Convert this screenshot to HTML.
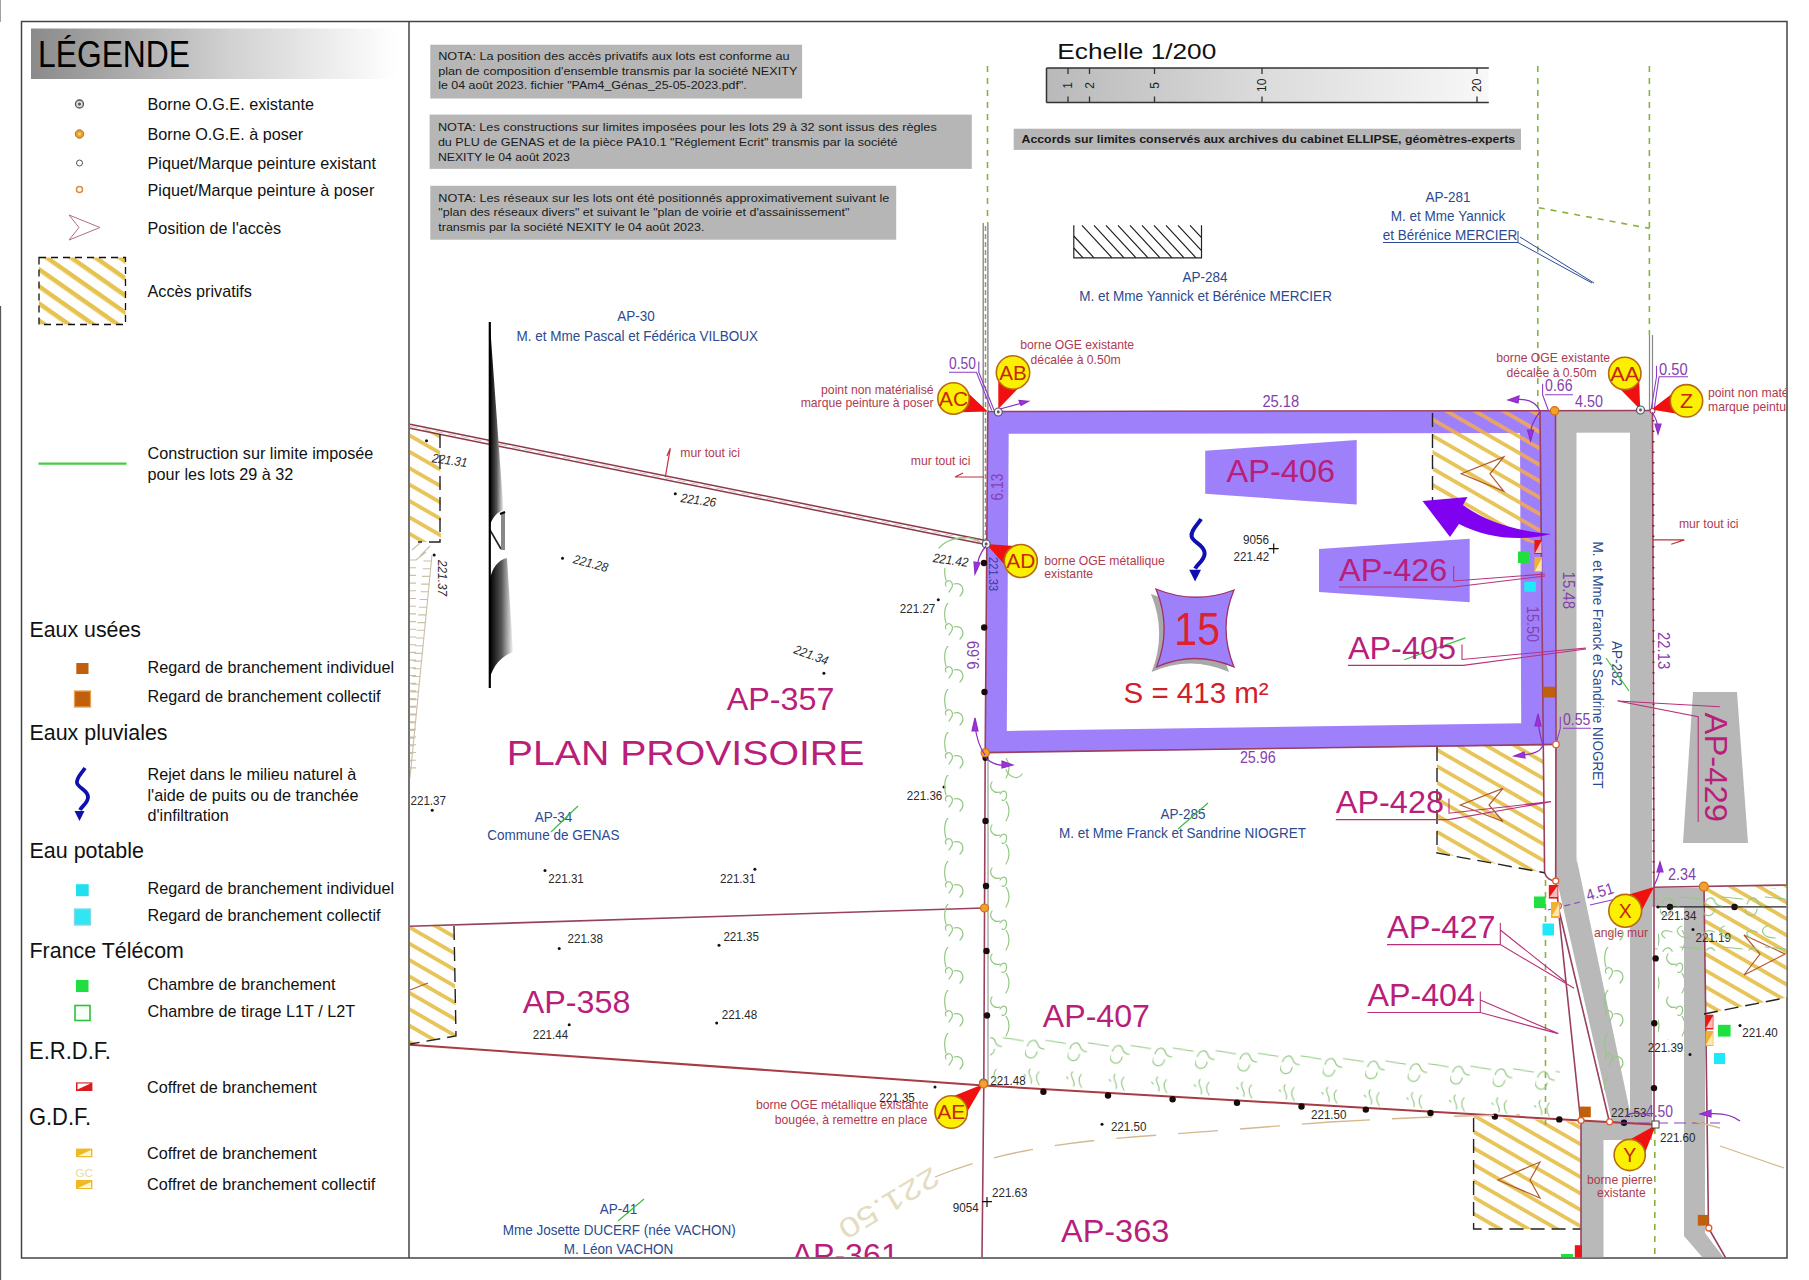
<!DOCTYPE html>
<html><head><meta charset="utf-8"><title>Plan</title>
<style>
html,body{margin:0;padding:0;background:#fff;width:1809px;height:1280px;overflow:hidden}
svg{display:block;font-family:"Liberation Sans",sans-serif}
</style></head><body>
<svg width="1809" height="1280" viewBox="0 0 1809 1280">
<defs>
<linearGradient id="lg" x1="0" x2="1" y1="0" y2="0"><stop offset="0" stop-color="#8a8a8a"/><stop offset="0.55" stop-color="#d2d2d2"/><stop offset="0.95" stop-color="#fafafa"/><stop offset="1" stop-color="#fff"/></linearGradient>
<linearGradient id="sg" x1="0" x2="1" y1="0" y2="0"><stop offset="0" stop-color="#b9b9b9"/><stop offset="0.5" stop-color="#dcdcdc"/><stop offset="1" stop-color="#f8f8f8"/></linearGradient>
<pattern id="hy" patternUnits="userSpaceOnUse" width="14" height="14" patternTransform="rotate(35)"><rect width="14" height="14" fill="#fff"/><rect y="0" width="14" height="4.5" fill="#e6c24e"/></pattern>
<pattern id="hy2" patternUnits="userSpaceOnUse" width="14.2" height="14.2" patternTransform="rotate(30)"><rect width="14.2" height="14.2" fill="#fff"/><rect y="0" width="14.2" height="3.8" fill="#e7c55a"/></pattern>
<pattern id="ho" patternUnits="userSpaceOnUse" width="14.2" height="14.2" patternTransform="rotate(30)"><rect y="0" width="14.2" height="3.8" fill="#e9a46a"/></pattern>
<clipPath id="mapclip"><rect x="409.8" y="22.2" width="1376.5" height="1235.1"/></clipPath>
<pattern id="hedgeH" patternUnits="userSpaceOnUse" width="42.6" height="50" patternTransform="translate(1026,1036) rotate(3.5)"><g fill="none" stroke="#94c884" stroke-width="1.2" stroke-linecap="round"><path d="M0,14 C-1,23 11,25 12,15"/><path d="M2,10 C4,3 10,2 12,7 C13,10 15,12 19,12"/><path d="M20,3 L40,5"/><path d="M-2,44 C-6,40 -1,36 2,40 M6,33 C2,37 10,41 8,47 M15,35 C12,39 13,44 16,48"/></g></pattern>
<pattern id="hedgeH2" patternUnits="userSpaceOnUse" width="42.6" height="50" patternTransform="translate(1660,894)"><g fill="none" stroke="#94c884" stroke-width="1.2" stroke-linecap="round"><path d="M0,14 C-1,23 11,25 12,15"/><path d="M2,10 C4,3 10,2 12,7 C13,10 15,12 19,12"/><path d="M20,3 L40,5"/><path d="M5,44 C-2,40 3,34 12,38 M22,32 C14,34 16,44 30,44"/></g></pattern>
<pattern id="hedgeV" patternUnits="userSpaceOnUse" width="30" height="43" patternTransform="translate(940,560)"><g fill="none" stroke="#94c884" stroke-width="1.2" stroke-linecap="round"><path d="M8,0 C4,4 4,14 6,20"/><path d="M6,26 C4,22 9,18 12,23 C14,27 10,30 9,32"/><path d="M14,24 C22,22 26,30 20,36"/></g></pattern>
<pattern id="hedgeV2" patternUnits="userSpaceOnUse" width="26" height="43" patternTransform="translate(988,758)"><g fill="none" stroke="#94c884" stroke-width="1.2" stroke-linecap="round"><path d="M18,0 C22,6 22,14 18,20"/><path d="M4,24 C0,30 6,36 12,34"/><path d="M12,36 C16,30 20,34 18,40 C16,44 14,42 14,42"/></g></pattern>
<linearGradient id="ng" x1="0" x2="1" y1="0" y2="0"><stop offset="0" stop-color="#000"/><stop offset="0.5" stop-color="#555"/><stop offset="1" stop-color="#f4f4f4"/></linearGradient>
</defs>
<rect width="1809" height="1280" fill="#fff"/>
<!-- left page edge -->
<line x1="0.4" y1="0" x2="0.4" y2="22" stroke="#999" stroke-width="1"/>
<line x1="0.5" y1="306" x2="0.5" y2="1280" stroke="#5a5a5a" stroke-width="1.3"/>

<!-- LEGEND -->
<g id="legend">
<rect x="31" y="28.5" width="366" height="50.5" fill="url(#lg)"/>
<text x="38" y="66.8" font-size="37.6" textLength="152" lengthAdjust="spacingAndGlyphs">LÉGENDE</text>
<g font-size="16.2" fill="#111">
<text x="147.5" y="110.4">Borne O.G.E. existante</text>
<text x="147.5" y="140.4">Borne O.G.E. à poser</text>
<text x="147.5" y="169">Piquet/Marque peinture existant</text>
<text x="147.5" y="195.5">Piquet/Marque peinture à poser</text>
<text x="147.5" y="233.8">Position de l'accès</text>
<text x="147.5" y="296.8">Accès privatifs</text>
<text x="147.5" y="459">Construction sur limite imposée</text>
<text x="147.5" y="480">pour les lots 29 à 32</text>
<text x="147.5" y="672.6">Regard de branchement individuel</text>
<text x="147.5" y="702.4">Regard de branchement collectif</text>
<text x="147.5" y="779.7">Rejet dans le milieu naturel à</text>
<text x="147.5" y="800.8">l'aide de puits ou de tranchée</text>
<text x="147.5" y="821">d'infiltration</text>
<text x="147.5" y="894">Regard de branchement individuel</text>
<text x="147.5" y="921.4">Regard de branchement collectif</text>
<text x="147.5" y="989.7">Chambre de branchement</text>
<text x="147.5" y="1016.5">Chambre de tirage L1T / L2T</text>
<text x="147" y="1092.6">Coffret de branchement</text>
<text x="147" y="1159">Coffret de branchement</text>
<text x="147" y="1189.7">Coffret de branchement collectif</text>
</g>
<g font-size="21.2" fill="#111">
<text x="29.5" y="637.3" font-size="22.8" textLength="111.5" lengthAdjust="spacingAndGlyphs">Eaux usées</text>
<text x="29.5" y="740.3" font-size="22.8" textLength="138" lengthAdjust="spacingAndGlyphs">Eaux pluviales</text>
<text x="29.5" y="858.4" font-size="22.8" textLength="114.5" lengthAdjust="spacingAndGlyphs">Eau potable</text>
<text x="29.5" y="957.5" font-size="22.8" textLength="154.4" lengthAdjust="spacingAndGlyphs">France Télécom</text>
<text x="29" y="1059.2" font-size="23.6" textLength="82" lengthAdjust="spacingAndGlyphs">E.R.D.F.</text>
<text x="29" y="1125.4" font-size="23.6" textLength="62" lengthAdjust="spacingAndGlyphs">G.D.F.</text>
</g>
<!-- symbols -->
<circle cx="79.5" cy="104" r="4" fill="#ddd" stroke="#555" stroke-width="1.3"/><circle cx="79.5" cy="104" r="1.5" fill="#555"/>
<circle cx="79.5" cy="134" r="4.2" fill="#e8a030" stroke="#b87010" stroke-width="1"/><circle cx="79.5" cy="134" r="1.6" fill="#f8d070"/>
<circle cx="79.5" cy="163" r="3" fill="#fff" stroke="#555" stroke-width="1"/>
<circle cx="79.5" cy="189.5" r="3" fill="#fff" stroke="#e08a3a" stroke-width="1.5"/>
<path d="M69,215 L100,227.5 L69,240 L79,227.5 Z" fill="none" stroke="#b07080" stroke-width="1"/>
<rect x="39" y="257.5" width="86.5" height="67" fill="url(#hy)"/>
<rect x="39" y="257.5" width="86.5" height="67" fill="none" stroke="#111" stroke-width="1.3" stroke-dasharray="7,5"/>
<line x1="38.5" y1="463.7" x2="126.5" y2="463.7" stroke="#44cc44" stroke-width="2.2"/>
<rect x="76.3" y="663" width="12.2" height="11" fill="#c0600e"/>
<rect x="74.5" y="691" width="16" height="16" fill="#c0600e" stroke="#e8a050" stroke-width="1.3"/>
<path d="M85,768 C81,774 76,778 77,783 C78,788 88,790 88,797 C88,803 82,806 80,810" fill="none" stroke="#1010b0" stroke-width="3.8"/>
<path d="M74.5,811 L84.5,811 L79.5,821 Z" fill="#1010b0"/>
<rect x="76" y="884.2" width="12.7" height="12" fill="#20e0f0"/>
<rect x="74.5" y="909" width="16" height="16" fill="#30e6f4" stroke="#80d8e8" stroke-width="1.3"/>
<rect x="76" y="980" width="12.5" height="12" fill="#20dd40"/>
<rect x="75" y="1005.5" width="15" height="15" fill="#f8fff8" stroke="#30c040" stroke-width="1.6"/>
<rect x="76" y="1082.4" width="16.4" height="8.6" fill="#dd1a20"/><path d="M77.5,1089.5 L90.5,1083.5 L77.5,1083.5 Z" fill="#fff"/>
<rect x="76" y="1148.6" width="16.4" height="8.6" fill="#f0b828"/><path d="M78,1156 L91,1150 L91,1156 Z" fill="#fff6d0"/>
<text x="75.5" y="1177" font-size="11" fill="#e8dc98" textLength="17.4" lengthAdjust="spacingAndGlyphs">GC</text>
<rect x="76" y="1180" width="16.4" height="9" fill="#f0b828"/><path d="M78,1188 L91,1182 L91,1188 Z" fill="#fff6d0"/>
</g>

<!-- FRAME -->
<rect x="21.5" y="21.5" width="1765.5" height="1236.5" fill="none" stroke="#444" stroke-width="1.5"/>
<line x1="409" y1="21.5" x2="409" y2="1258" stroke="#444" stroke-width="1.5"/>

<!-- NOTA BOXES -->
<g font-size="11" fill="#1a1a1a">
<rect x="430.3" y="44.7" width="371.8" height="53.8" fill="#b6b6b6"/>
<text x="438.2" y="60.2" textLength="351.3" lengthAdjust="spacingAndGlyphs">NOTA: La position des accès privatifs aux lots est conforme au</text>
<text x="438.2" y="74.7" textLength="359.2" lengthAdjust="spacingAndGlyphs">plan de composition d'ensemble transmis par la société NEXITY</text>
<text x="438.2" y="89.4" textLength="308.6" lengthAdjust="spacingAndGlyphs">le 04 août 2023. fichier "PAm4_Génas_25-05-2023.pdf".</text>
<rect x="429.6" y="114.6" width="542.2" height="54.3" fill="#b6b6b6"/>
<text x="437.9" y="130.9" textLength="498.9" lengthAdjust="spacingAndGlyphs">NOTA: Les constructions sur limites imposées pour les lots 29 à 32 sont issus des règles</text>
<text x="437.9" y="145.6" textLength="459.6" lengthAdjust="spacingAndGlyphs">du PLU de GENAS et de la pièce PA10.1 "Réglement Ecrit" transmis par la société</text>
<text x="437.9" y="160.6" textLength="131.9" lengthAdjust="spacingAndGlyphs">NEXITY le 04 août 2023</text>
<rect x="430.3" y="185.8" width="465.9" height="53.9" fill="#b6b6b6"/>
<text x="438.3" y="201.8" textLength="451" lengthAdjust="spacingAndGlyphs">NOTA: Les réseaux sur les lots ont été positionnés approximativement suivant le</text>
<text x="438.3" y="216.3" textLength="411.2" lengthAdjust="spacingAndGlyphs">"plan des réseaux divers" et suivant le "plan de voirie et d'assainissement"</text>
<text x="438.3" y="230.9" textLength="266.1" lengthAdjust="spacingAndGlyphs">transmis par la société NEXITY le 04 août 2023.</text>
<rect x="1013.7" y="128.7" width="507.3" height="21.2" fill="#b6b6b6"/>
<text x="1021.5" y="143.2" font-weight="bold" font-size="11.3" textLength="493.7" lengthAdjust="spacingAndGlyphs">Accords sur limites conservés aux archives du cabinet ELLIPSE, géomètres-experts</text>
</g>

<!-- SCALE -->
<g>
<text x="1057.3" y="59.2" font-size="22" textLength="159" lengthAdjust="spacingAndGlyphs" fill="#111">Echelle 1/200</text>
<rect x="1046.5" y="68" width="442" height="34.5" fill="url(#sg)"/>
<path d="M1046.5,68 H1488.8 M1046.5,102.5 H1488.8 M1046.5,68 V102.5" stroke="#333" stroke-width="1.5" fill="none"/>
<g stroke="#333" stroke-width="1.3">
<path d="M1068,68v6M1068,102.5v-6M1089.5,68v6M1089.5,102.5v-6M1154.5,68v6M1154.5,102.5v-6M1262,68v6M1262,102.5v-6M1477,68v6M1477,102.5v-6"/>
</g>
<g font-size="12" fill="#222">
<text transform="translate(1072,85.3) rotate(-90)" text-anchor="middle">1</text>
<text transform="translate(1093.5,85.3) rotate(-90)" text-anchor="middle">2</text>
<text transform="translate(1158.5,85.3) rotate(-90)" text-anchor="middle">5</text>
<text transform="translate(1266,85.3) rotate(-90)" text-anchor="middle">10</text>
<text transform="translate(1481,85.3) rotate(-90)" text-anchor="middle">20</text>
</g>
</g>

<!-- MAP -->
<g id="map" clip-path="url(#mapclip)">
<!-- ===== MAP: big shapes ===== -->
<g id="shapes">
<!-- hatched areas -->
<path d="M1432.5,411.5 L1540,411 L1541,545 L1432.5,505 Z" fill="url(#hy2)"/>
<path d="M1437,745.5 L1543.5,745 L1544.6,872.7 L1437,853 Z" fill="url(#hy2)"/>
<path d="M1473.6,1116 L1580.5,1122 L1580.5,1229 L1473.6,1229 Z" fill="url(#hy2)"/>
<path d="M1704,887 L1787,885 L1787,997.5 L1704,1014 Z" fill="url(#hy2)"/>
<path d="M410,426 L440,434 L441,542 L410,542 Z" fill="url(#hy2)"/>
<path d="M410,926 L454,924 L456,1036 L410,1044 Z" fill="url(#hy2)"/>
<!-- purple lot frame -->
<path fill-rule="evenodd" fill="#9f80fb" d="M987.8,411.5 L1555,411 L1556,745 L985.2,752.6 Z M1008.7,433.8 L1520,433 L1521.2,723.3 L1006.8,731 Z"/>
<!-- hatch over purple -->
<path d="M1432.5,411.5 L1540,411 L1541,545 L1520,540 L1520,433 L1432.5,433.5 Z" fill="url(#ho)"/>
<!-- grey roads -->
<g fill="#b9b9b9">
<rect x="1555" y="410.5" width="96.5" height="22.2"/>
<rect x="1555" y="411" width="21.5" height="452"/>
<path d="M1555,862 L1555,872 L1612,1122 L1630,1122 L1630,1112 L1576.5,858 L1576.5,862 Z"/>
<rect x="1630" y="410.5" width="22" height="711.5"/>
<rect x="1581" y="1121" width="71" height="19"/>
<rect x="1581" y="1121" width="22.5" height="137"/>
<rect x="1652" y="888" width="53" height="19"/>
<path d="M1684,888 L1705,888 L1705,1233 L1724,1258 L1703,1258 L1684,1236 Z"/>
</g>
<!-- AP-429 trapezoid -->
<path d="M1693,692 L1737,692 L1748,843 L1683,843 Z" fill="#b7b7b7"/>
<!-- label trapezoids -->
<path d="M1205.2,450.8 L1356.7,439.9 L1356.7,504.5 L1205.2,493.8 Z" fill="#9f80fb"/>
<path d="M1319,549 L1469.7,538.7 L1469.7,602.3 L1319,591.9 Z" fill="#9f80fb"/>
</g>


<!-- ===== MAP: lines ===== -->
<g id="lines" fill="none">
<!-- green dashed cadastral lines -->
<g stroke="#8ab040" stroke-width="1.6" stroke-dasharray="6,6">
<path d="M987.5,66 V223"/>
<path d="M1537.8,66 V408"/>
<path d="M1649.4,66 V335"/>
<path d="M1538.8,207.7 L1649.5,228.4"/>
<path d="M1545.5,880 V1125"/>
<path d="M1654.8,1128 V1258"/>
</g>
<!-- wall double lines (grey) -->
<g stroke="#777" stroke-width="1.2">
<path d="M983.2,223 V545 M987.9,223 V411"/>
</g>
<path d="M985.5,226 V542" stroke="#8a9a70" stroke-width="1.5" stroke-dasharray="5,3"/>
<path d="M1649.5,335 V410 M1652.5,335 V410" stroke="#888" stroke-width="1.2"/>
<!-- red boundary lines -->
<g stroke="#98405e" stroke-width="1.6">
<path d="M987.8,411.5 L1651.5,410.5"/>
<path d="M987.8,411.5 L985.2,752.6 L983.8,1086 L982,1258"/>
<path d="M985.2,752.6 L1556,744.4"/>
<path d="M1540,411 L1543.3,745 L1544.6,872.7 C1546,878 1551,881 1555.7,881"/>
<path d="M1555.5,411 L1556,745 L1555.7,881 L1558.4,905.8"/>
<path d="M1558,906 L1580.5,1120 M1558,906 L1609.6,1122.7"/>
<path d="M1652.5,410.5 L1654,887 L1654,1124.6"/>
<path d="M1654,887.3 L1787,885"/>
<path d="M1704,887 L1708.5,1228 L1725.7,1258"/>

<path d="M410,926.3 L983.7,908"/>
<path d="M1581,1120.5 V1258"/>
</g>
<path d="M410,1044.7 L983.7,1085.5 L1581,1120.5 L1653.5,1124.6" stroke="#a83c44" stroke-width="2" fill="none"/>
<!-- wall along top-left (double) -->
<g stroke="#8c3848" stroke-width="1.5">
<path d="M410,424.2 L984.4,540.3"/>
<path d="M410,428.2 L984.4,544.3"/>
</g>
<path d="M410,426.2 L984.4,542.3" stroke="#d8c0c8" stroke-width="1" stroke-dasharray="8,5"/>
<!-- wall ticks on right boundary -->
<path d="M1653.5,420 V880" stroke="#6a2030" stroke-width="1.8" stroke-dasharray="1.5,9"/>
<!-- other grey line -->
<path d="M988,752 V1086" stroke="#888" stroke-width="1"/>
<!-- dashed black hatch borders -->
<g stroke="#222" stroke-width="1.4" stroke-dasharray="14,7">
<path d="M1432.5,413 V505"/>
<path d="M1437,747 V853 L1544.6,872.7"/>
<path d="M1473.6,1118 V1229 H1580.5"/>
<path d="M1704,1014 L1787,997.5"/>
<path d="M440,434 V542 H418"/>
<path d="M454,926 L456,1036 L410,1044"/>
</g>
<!-- AP-284 black hatch rect -->
<g stroke="#222" stroke-width="1.2">
<path d="M1073.8,225.3 V257.8 H1201.5 V225.3"/>
<path d="M1073.8,236 L1094,257.8 M1073.8,248 L1083,257.8 M1082,225.3 L1112,257.8 M1094,225.3 L1124,257.8 M1106,225.3 L1136,257.8 M1118,225.3 L1148,257.8 M1130,225.3 L1160,257.8 M1142,225.3 L1172,257.8 M1154,225.3 L1184,257.8 M1166,225.3 L1196,257.8 M1178,225.3 L1201.5,250.7 M1190,225.3 L1201.5,237.7"/>
</g>
</g>
<g id="dots" fill="#1a0a0a">
<circle cx="984" cy="563" r="3.2"/><circle cx="984.2" cy="627.5" r="3.2"/><circle cx="984.5" cy="692" r="3.2"/>
<circle cx="985.4" cy="758" r="3"/><circle cx="985.5" cy="821" r="3.2"/><circle cx="986" cy="886" r="3.2"/><circle cx="986.5" cy="951" r="3.2"/><circle cx="987" cy="1015.5" r="3.2"/>
<circle cx="1043.4" cy="1091.8" r="3.2"/><circle cx="1108" cy="1095.5" r="3.2"/><circle cx="1172.6" cy="1099.2" r="3.2"/><circle cx="1237" cy="1102.8" r="3.2"/><circle cx="1301.5" cy="1106.5" r="3.2"/><circle cx="1365.8" cy="1109.6" r="3.2"/><circle cx="1430.5" cy="1113" r="3.2"/><circle cx="1494.9" cy="1116.6" r="3.2"/><circle cx="1559.3" cy="1119.4" r="3.2"/><circle cx="1624" cy="1122.7" r="3.2"/>
<circle cx="1655.6" cy="958.4" r="3.2"/><circle cx="1654.3" cy="1023.2" r="3.2"/><circle cx="1654" cy="1088.1" r="3.2"/>
<circle cx="1670" cy="907" r="3.2"/><circle cx="1734.5" cy="907" r="3.2"/>
</g>
<path d="M1656.4,906.9 H1787" stroke="#222" stroke-width="1.2"/>


<!-- ===== MAP: texts ===== -->
<g id="owners" font-size="15" fill="#2b4a90" text-anchor="middle">
<text x="636" y="321.3" textLength="37.5" lengthAdjust="spacingAndGlyphs">AP-30</text>
<text x="637.2" y="341.2" textLength="241.6" lengthAdjust="spacingAndGlyphs">M. et Mme Pascal et Fédérica VILBOUX</text>
<text x="1205" y="282.2" textLength="45.0" lengthAdjust="spacingAndGlyphs">AP-284</text>
<text x="1205.6" y="301.4" textLength="252.6" lengthAdjust="spacingAndGlyphs">M. et Mme Yannick et Bérénice MERCIER</text>
<text x="1448" y="201.5" textLength="45.0" lengthAdjust="spacingAndGlyphs">AP-281</text>
<text x="1448" y="221" textLength="114.5" lengthAdjust="spacingAndGlyphs">M. et Mme Yannick</text>
<text x="1450" y="239.5" textLength="134.3" lengthAdjust="spacingAndGlyphs">et Bérénice MERCIER</text>
<text x="553.5" y="822" textLength="37.5" lengthAdjust="spacingAndGlyphs">AP-34</text>
<text x="553.4" y="840.2" textLength="132.1" lengthAdjust="spacingAndGlyphs">Commune de GENAS</text>
<text x="1183" y="818.5" textLength="45.0" lengthAdjust="spacingAndGlyphs">AP-285</text>
<text x="1182.5" y="837.5" textLength="246.8" lengthAdjust="spacingAndGlyphs">M. et Mme Franck et Sandrine NIOGRET</text>
<text x="618.5" y="1213.8" textLength="37.5" lengthAdjust="spacingAndGlyphs">AP-41</text>
<text x="619.2" y="1235.4" textLength="233.0" lengthAdjust="spacingAndGlyphs">Mme Josette DUCERF (née VACHON)</text>
<text x="618.5" y="1254" textLength="109.3" lengthAdjust="spacingAndGlyphs">M. Léon VACHON</text>
<text transform="translate(1593,665) rotate(90)" textLength="246.8" lengthAdjust="spacingAndGlyphs">M. et Mme Franck et Sandrine NIOGRET</text>
<text transform="translate(1612,663.6) rotate(90)" textLength="45.0" lengthAdjust="spacingAndGlyphs">AP-282</text>
</g>
<!-- underline for AP-281 owner -->
<path d="M1383,242.5 H1518 V231 M1518,242.5 L1592,283 M1520,237 L1594,283" stroke="#2b4c94" stroke-width="1" fill="none"/>
<!-- green strikes -->
<g stroke="#44bb44" stroke-width="1.2">
<path d="M551,832 L578,806"/>
<path d="M1178,829 L1208,803"/>
<path d="M618,1221 L644,1199"/>
<path d="M1404.3,659.8 L1465.3,637.9"/>
<path d="M1606,658 L1629,691"/>
</g>

<g id="aplabels" font-size="30.5" fill="#b81e7a">
<text x="726.7" y="709.8" textLength="107.8" lengthAdjust="spacingAndGlyphs">AP-357</text>
<text x="506.8" y="764.9" font-size="35" textLength="357.5" lengthAdjust="spacingAndGlyphs">PLAN PROVISOIRE</text>
<text x="522.7" y="1012.5" textLength="107.8" lengthAdjust="spacingAndGlyphs">AP-358</text>
<text x="1042.8" y="1027" textLength="107.2" lengthAdjust="spacingAndGlyphs">AP-407</text>
<text x="1061" y="1241.7" textLength="108.3" lengthAdjust="spacingAndGlyphs">AP-363</text>
<text x="791.4" y="1266" textLength="107.5" lengthAdjust="spacingAndGlyphs">AP-361</text>
<text x="1226.5" y="482.1" textLength="108.6" lengthAdjust="spacingAndGlyphs">AP-406</text>
<text x="1339.1" y="580.7" textLength="108.2" lengthAdjust="spacingAndGlyphs">AP-426</text>
<text x="1347.9" y="659.1" textLength="108.1" lengthAdjust="spacingAndGlyphs">AP-405</text>
<text x="1335.8" y="813.2" textLength="108.2" lengthAdjust="spacingAndGlyphs">AP-428</text>
<text x="1387" y="937.6" textLength="108.7" lengthAdjust="spacingAndGlyphs">AP-427</text>
<text x="1367.4" y="1005.8" textLength="107.6" lengthAdjust="spacingAndGlyphs">AP-404</text>
<text transform="translate(1705,712.5) rotate(90)" textLength="109.5" lengthAdjust="spacingAndGlyphs">AP-429</text>
</g>
<!-- AP label leaders -->
<g stroke="#b8307a" stroke-width="1.1" fill="none">
<path d="M1339,587 H1454 L1545,576 M1453.7,566 V581 L1545,574"/>
<path d="M1348,665.4 H1463.3 L1586,649 M1462,644.5 V659.5 L1586,648"/>
<path d="M1335.8,819.6 H1448.6 L1551,801.6 M1449,798.5 V813.2 L1551,801.6"/>
<path d="M1387,944.6 H1500.3 L1574.1,988.3 M1500.3,922.9 V944.6 M1500.3,930 L1565.7,982"/>
<path d="M1367.4,1012.5 H1480.3 L1558.3,1033.6 M1480.3,991.4 V1012.5 M1480.3,1000 L1558.3,1033.6"/>
<path d="M1617.7,701 L1719.8,706.7 M1617.7,701 L1698.2,716.8 V822"/>
</g>

<g id="redtext" font-size="12.2" fill="#b03a50">
<text x="821.1" y="393.5">point non matérialisé</text>
<text x="800.7" y="406.6">marque peinture à poser</text>
<text x="1020.3" y="349.1">borne OGE existante</text>
<text x="1030.6" y="364.4">décalée à 0.50m</text>
<text x="1496.3" y="362.3">borne OGE existante</text>
<text x="1506.6" y="377.4">décalée à 0.50m</text>
<text x="1708" y="397.4">point non maté</text>
<text x="1708" y="410.6">marque peintu</text>
<text x="680.3" y="457.2">mur tout ici</text>
<text x="910.8" y="464.9">mur tout ici</text>
<text x="1678.9" y="527.6">mur tout ici</text>
<text x="1044.3" y="564.8">borne OGE métallique</text>
<text x="1044.3" y="577.6">existante</text>
<text x="755.9" y="1109.4">borne OGE métallique existante</text>
<text x="774.8" y="1123.6">bougée, à remettre en place</text>
<text x="1593.9" y="937.3">angle mur</text>
<text x="1587" y="1184.2">borne pierre</text>
<text x="1597" y="1196.8">existante</text>
</g>


<!-- ===== MAP: dimension texts ===== -->
<g id="dims" font-size="16" fill="#8540b0">
<text x="949" y="369.2" textLength="26.8" lengthAdjust="spacingAndGlyphs">0.50</text>
<text x="1262.4" y="406.6" textLength="36.8" lengthAdjust="spacingAndGlyphs">25.18</text>
<text x="1545.1" y="390.6" textLength="27.4" lengthAdjust="spacingAndGlyphs">0.66</text>
<text x="1575.1" y="406.8" textLength="27.9" lengthAdjust="spacingAndGlyphs">4.50</text>
<text x="1659.1" y="375.1" textLength="28.6" lengthAdjust="spacingAndGlyphs">0.50</text>
<text x="1239.9" y="763.4" textLength="35.9" lengthAdjust="spacingAndGlyphs">25.96</text>
<text x="1563" y="725.4" textLength="27.4" lengthAdjust="spacingAndGlyphs">0.55</text>
<text x="1668" y="880.3" textLength="28" lengthAdjust="spacingAndGlyphs">2.34</text>
<text x="1646" y="1117" textLength="27" lengthAdjust="spacingAndGlyphs">4.50</text>
<text transform="translate(1588,901) rotate(-17)" textLength="28" lengthAdjust="spacingAndGlyphs">4.51</text>
<text transform="translate(1002.5,500.5) rotate(-90)" textLength="27" lengthAdjust="spacingAndGlyphs">6.13</text>
<text transform="translate(979,669.4) rotate(-90)" textLength="28.4" lengthAdjust="spacingAndGlyphs">9.69</text>
<text transform="translate(1526.5,606) rotate(90)" textLength="36" lengthAdjust="spacingAndGlyphs">15.50</text>
<text transform="translate(1562.5,571.6) rotate(90)" textLength="37.4" lengthAdjust="spacingAndGlyphs">15.48</text>
<text transform="translate(1657.5,632) rotate(90)" textLength="37.3" lengthAdjust="spacingAndGlyphs">22.13</text>
</g>
<text transform="translate(988.5,556.9) rotate(90)" font-size="13" fill="#3a3a9a" textLength="34.4" lengthAdjust="spacingAndGlyphs">221.33</text>
<!-- dimension underlines/leaders -->
<g stroke="#8d3fc9" stroke-width="1.1" fill="none">
<path d="M949,372.3 H976.5 L991.6,410.3 M978.8,361.4 V372.3 L994,410"/>
<path d="M1545,394.8 H1573 M1542.6,383.7 V394.8 L1548.6,411"/>
<path d="M1659,376.8 H1688 M1656.5,365.7 V376.8 L1651,410 M1659,376.8 L1654,410"/>
<path d="M1563,728.3 H1591 M1560.3,716.8 V728.3 L1556,744"/>
<path d="M1580,902 L1548,910" stroke-dasharray="6,4"/>
<path d="M1590,905 L1625,897"/>
<path d="M1620,1123 H1720" stroke-dasharray="12,6"/>
</g>

<g id="markers">
<path d="M961.2,412.2 L987.8,411.5 L968.3,393.3 Z" fill="#f01010"/>
<circle cx="953.5" cy="398.5" r="15.7" fill="#fbf000" stroke="#b86a10" stroke-width="1.6"/>
<text x="953.5" y="405.8" font-size="21" fill="#c42810" text-anchor="middle" textLength="29" lengthAdjust="spacingAndGlyphs">AC</text>
<path d="M998.3,380.3 L998.3,409.0 L1018.2,388.3 Z" fill="#f01010"/>
<circle cx="1013" cy="372.5" r="16.7" fill="#fbf000" stroke="#b86a10" stroke-width="1.6"/>
<text x="1013" y="379.8" font-size="21" fill="#c42810" text-anchor="middle" textLength="27.5" lengthAdjust="spacingAndGlyphs">AB</text>
<path d="M1014.2,546.0 L986.2,544.0 L1004.8,564.9 Z" fill="#f01010"/>
<circle cx="1020.8" cy="561" r="16.5" fill="#fbf000" stroke="#b86a10" stroke-width="1.6"/>
<text x="1020.8" y="568.3" font-size="21" fill="#c42810" text-anchor="middle" textLength="29" lengthAdjust="spacingAndGlyphs">AD</text>
<path d="M967.3,1111.7 L983.5,1084.0 L953.7,1096.1 Z" fill="#f01010"/>
<circle cx="951.2" cy="1112" r="16.2" fill="#fbf000" stroke="#b86a10" stroke-width="1.6"/>
<text x="951.2" y="1119.3" font-size="21" fill="#c42810" text-anchor="middle" textLength="28" lengthAdjust="spacingAndGlyphs">AE</text>
<path d="M1620.1,388.9 L1640.2,409.4 L1639.2,380.7 Z" fill="#f01010"/>
<circle cx="1624.8" cy="373.4" r="16.2" fill="#fbf000" stroke="#b86a10" stroke-width="1.6"/>
<text x="1624.8" y="380.7" font-size="21" fill="#c42810" text-anchor="middle" textLength="29" lengthAdjust="spacingAndGlyphs">AA</text>
<path d="M1672.0,393.7 L1651.4,409.4 L1677.0,413.8 Z" fill="#f01010"/>
<circle cx="1686.5" cy="400.8" r="16.2" fill="#fbf000" stroke="#b86a10" stroke-width="1.6"/>
<text x="1686.5" y="408.1" font-size="21" fill="#c42810" text-anchor="middle" textLength="13" lengthAdjust="spacingAndGlyphs">Z</text>
<path d="M1641.5,910.9 L1654.0,887.0 L1628.2,894.7 Z" fill="#f01010"/>
<circle cx="1625.2" cy="910.8" r="16.4" fill="#fbf000" stroke="#b86a10" stroke-width="1.6"/>
<text x="1625.2" y="918.1" font-size="21" fill="#c42810" text-anchor="middle" textLength="13" lengthAdjust="spacingAndGlyphs">X</text>
<path d="M1645.1,1152.6 L1656.0,1125.0 L1630.0,1139.4 Z" fill="#f01010"/>
<circle cx="1629.7" cy="1155" r="15.6" fill="#fbf000" stroke="#b86a10" stroke-width="1.6"/>
<text x="1629.7" y="1162.3" font-size="21" fill="#c42810" text-anchor="middle" textLength="13" lengthAdjust="spacingAndGlyphs">Y</text>
</g>
<!-- survey point symbols -->
<g id="points">
<g fill="#eee" stroke="#556" stroke-width="1.2">
<circle cx="998.3" cy="412" r="4"/><circle cx="986.2" cy="544" r="4"/><circle cx="1640.5" cy="410" r="4"/><circle cx="983.5" cy="1083" r="4"/>
</g>
<g fill="#556"><circle cx="998.3" cy="412" r="1.4"/><circle cx="986.2" cy="544" r="1.4"/><circle cx="1640.5" cy="410" r="1.4"/></g>
<g fill="#f3a030" stroke="#d07010" stroke-width="1.2">
<circle cx="1554.6" cy="410.8" r="4.2"/><circle cx="985.3" cy="752.8" r="4.2"/><circle cx="984.5" cy="908" r="4"/><circle cx="983.5" cy="1084" r="4"/><circle cx="1703.8" cy="886.6" r="4.5"/>
</g>
<g fill="#fff" stroke="#e06030" stroke-width="1.3">
<circle cx="1556" cy="744.4" r="3.2"/><circle cx="1555.7" cy="881" r="3"/><circle cx="1558.4" cy="905.8" r="3"/><circle cx="1609.6" cy="1121.8" r="3"/><circle cx="1581" cy="1120.5" r="3"/><circle cx="1708.8" cy="1228" r="3"/>
</g>
<rect x="1652" y="1121" width="7" height="7" fill="#fff" stroke="#444" stroke-width="1"/>
<circle cx="1652.5" cy="411" r="2.5" fill="#fff" stroke="#a02040" stroke-width="1"/>
</g>

<g id="elev" font-size="12.8" fill="#2a2a2a">
<text transform="translate(431.5,462.2) rotate(8)" font-style="italic" textLength="35.5" lengthAdjust="spacingAndGlyphs">221.31</text>
<text transform="translate(680.3,502) rotate(8)" font-style="italic" textLength="35.5" lengthAdjust="spacingAndGlyphs">221.26</text>
<text transform="translate(572.5,563) rotate(15)" font-style="italic" textLength="35.5" lengthAdjust="spacingAndGlyphs">221.28</text>
<text transform="translate(793,653) rotate(20)" font-style="italic" textLength="35.5" lengthAdjust="spacingAndGlyphs">221.34</text>
<text transform="translate(932.4,562) rotate(8)" font-style="italic" textLength="35.5" lengthAdjust="spacingAndGlyphs">221.42</text>
<text x="899.8" y="613" textLength="35.5" lengthAdjust="spacingAndGlyphs">221.27</text>
<text x="906.8" y="800.4" textLength="35.5" lengthAdjust="spacingAndGlyphs">221.36</text>
<text x="410.5" y="805.3" textLength="35.5" lengthAdjust="spacingAndGlyphs">221.37</text>
<text x="548.3" y="883.2" textLength="35.5" lengthAdjust="spacingAndGlyphs">221.31</text>
<text x="720" y="882.5" textLength="35.5" lengthAdjust="spacingAndGlyphs">221.31</text>
<text x="567.5" y="942.9" textLength="35.5" lengthAdjust="spacingAndGlyphs">221.38</text>
<text x="723.4" y="941.2" textLength="35.5" lengthAdjust="spacingAndGlyphs">221.35</text>
<text x="721.7" y="1018.5" textLength="35.5" lengthAdjust="spacingAndGlyphs">221.48</text>
<text x="532.7" y="1039" textLength="35.5" lengthAdjust="spacingAndGlyphs">221.44</text>
<text x="879.3" y="1102.1" textLength="35.5" lengthAdjust="spacingAndGlyphs">221.35</text>
<text x="990.2" y="1085" textLength="35.5" lengthAdjust="spacingAndGlyphs">221.48</text>
<text x="1110.9" y="1131.2" textLength="35.5" lengthAdjust="spacingAndGlyphs">221.50</text>
<text x="992" y="1196.8" textLength="35.5" lengthAdjust="spacingAndGlyphs">221.63</text>
<text x="952.8" y="1212.4" textLength="26" lengthAdjust="spacingAndGlyphs">9054</text>
<text x="1242.9" y="544.1" textLength="26" lengthAdjust="spacingAndGlyphs">9056</text>
<text x="1233.6" y="560.7" textLength="35.5" lengthAdjust="spacingAndGlyphs">221.42</text>
<text x="1311" y="1118.5" textLength="35.5" lengthAdjust="spacingAndGlyphs">221.50</text>
<text x="1611" y="1117.3" textLength="35.5" lengthAdjust="spacingAndGlyphs">221.53</text>
<text x="1660" y="1141.9" textLength="35.5" lengthAdjust="spacingAndGlyphs">221.60</text>
<text x="1661" y="920" textLength="35.5" lengthAdjust="spacingAndGlyphs">221.34</text>
<text x="1695.5" y="942" textLength="35.5" lengthAdjust="spacingAndGlyphs">221.19</text>
<text x="1742.3" y="1037.3" textLength="35.5" lengthAdjust="spacingAndGlyphs">221.40</text>
<text x="1647.8" y="1052.2" textLength="35.5" lengthAdjust="spacingAndGlyphs">221.39</text>
<text transform="translate(437.5,560) rotate(90)" font-style="italic" textLength="36" lengthAdjust="spacingAndGlyphs">221.37</text>
</g>
<g fill="#111"><circle cx="426.5" cy="440.7" r="1.5"/><circle cx="675.3" cy="493.7" r="1.5"/><circle cx="562.5" cy="558.2" r="1.5"/><circle cx="434.2" cy="555" r="1.5"/><circle cx="823.9" cy="673.3" r="1.5"/><circle cx="938.3" cy="599.7" r="1.5"/><circle cx="944" cy="787" r="1.5"/><circle cx="432.2" cy="810.3" r="1.5"/><circle cx="545" cy="870.6" r="1.5"/><circle cx="754.9" cy="869.2" r="1.5"/><circle cx="559.2" cy="948.5" r="1.5"/><circle cx="719" cy="945.2" r="1.5"/><circle cx="716.7" cy="1023.1" r="1.5"/><circle cx="569.2" cy="1024.8" r="1.5"/><circle cx="1102" cy="1124.3" r="1.5"/><circle cx="1693" cy="929.5" r="1.5"/><circle cx="1740" cy="1025.6" r="1.5"/><circle cx="1690" cy="1054.5" r="1.5"/><circle cx="1658" cy="906.9" r="1.5"/><circle cx="935" cy="1087" r="1.5"/></g>
<path d="M987,1197 V1207 M982,1201.7 H992 M1273.7,543.6 V553.6 M1268.7,548.6 H1278.7" stroke="#111" stroke-width="1.2"/>
<!-- lot 15 star -->
<path transform="translate(-5,5)" d="M1156,589 Q1195,605 1234,590 Q1218,628 1234,667 Q1195,650 1156.6,667 Q1172,628 1156,589 Z" fill="#a8a8a8"/>
<path d="M1156,589 Q1195,605 1234,590 Q1218,628 1234,667 Q1195,650 1156.6,667 Q1172,628 1156,589 Z" fill="#9f80fb" stroke="#a0306a" stroke-width="1.3"/>
<text x="1174.3" y="644.6" font-size="46" fill="#e0202a" textLength="45.7" lengthAdjust="spacingAndGlyphs">15</text>
<text x="1123.5" y="702.5" font-size="28.6" fill="#d0202a" textLength="145.2" lengthAdjust="spacingAndGlyphs">S = 413 m²</text>
<!-- blue squiggle (lot) -->
<g transform="translate(1200.4,519) scale(1.18)">
<path d="M0.6,0 C-3.4,6 -8.4,10 -7.4,15 C-6.4,20 3.6,22 3.6,29 C3.6,35 -2.4,38 -4.4,42" fill="none" stroke="#1010b0" stroke-width="3.4"/>
<path d="M-9.5,43 L0.5,43 L-4.5,53 Z" fill="#1010b0"/>
</g>
<!-- big purple arrow -->
<path d="M1551,534 C1520,542 1486,538 1459,524 L1450,537 L1422.5,501 L1467.5,497 L1463,505 C1482,519 1512,531 1551,534 Z" fill="#8000f0"/>
<!-- access arrows (brown outline) -->
<g fill="none" stroke="#b05a30" stroke-width="1.2">
<path d="M1503.8,456.9 L1461.3,473.8 L1503.8,491.3 L1490,473.8 Z"/>
<path d="M1503,788.4 L1460.3,805 L1503,821.5 L1489,805 Z"/>
<path d="M1540,1162 L1498,1180 L1540,1198 L1530,1180 Z"/>
<path d="M1744,935 L1785,954 L1744,975 L1760,954 Z"/>
<path d="M410,990 L428,983"/>
</g>


<!-- ===== MAP: vegetation ===== -->
<g id="veg" fill="none" stroke="#94c884" stroke-width="1.2" stroke-linecap="round">
<path d="M990,1036 L1560,1070 L1560,1118 L990,1084 Z" fill="url(#hedgeH)" stroke="none"/>
<rect x="940" y="568" width="30" height="505" fill="url(#hedgeV)" stroke="none"/>
<rect x="988" y="758" width="26" height="280" fill="url(#hedgeV2)" stroke="none"/>
<rect x="1600" y="930" width="28" height="160" fill="url(#hedgeV)" stroke="none"/>
<rect x="1658" y="930" width="26" height="110" fill="url(#hedgeV2)" stroke="none"/>
<path d="M1655,890 L1787,888 L1787,950 L1655,952 Z" fill="url(#hedgeH2)" stroke="none"/>
<path d="M939,548 C950,536 970,535 980,542"/>
<path d="M1006,770 C1010,778 1018,780 1022,774"/>
</g>
<!-- small network squares -->
<g id="squares">
<rect x="1518" y="551.5" width="11.5" height="11.5" fill="#20e040"/>
<rect x="1534.4" y="540" width="7.6" height="14" fill="#e81818"/><path d="M1535,553 L1541.5,541 L1541.5,553 Z" fill="#fff" opacity="0.7"/>
<rect x="1534.4" y="557" width="7.6" height="15" fill="#f0b030"/><path d="M1535,571 L1541.5,559 L1541.5,571 Z" fill="#ffe8b0"/>
<rect x="1524.3" y="581.7" width="11.5" height="10" fill="#20e8f8"/>
<rect x="1542.8" y="686.7" width="12.2" height="10.8" fill="#c0600e"/>
<rect x="1534" y="896.5" width="11.6" height="11.6" fill="#20e040"/>
<rect x="1542.5" y="923.5" width="11.5" height="12" fill="#20e8f8"/>
<rect x="1548.8" y="885" width="9.5" height="13.6" fill="#e81818"/><path d="M1549.5,897 L1557.5,886 L1557.5,897 Z" fill="#fff" opacity="0.7"/>
<rect x="1551" y="902" width="9" height="16" fill="#f0b030"/><path d="M1552,916 L1559,904 L1559,916 Z" fill="#ffe8b0"/>
<rect x="1705.6" y="1014.7" width="7.8" height="14.8" fill="#e81818"/><path d="M1706,1028 L1712.8,1016 L1712.8,1028 Z" fill="#fff" opacity="0.7"/>
<rect x="1705.6" y="1031" width="7.8" height="15" fill="#f0b030"/><path d="M1706,1045 L1712.8,1033 L1712.8,1045 Z" fill="#ffe8b0"/>
<rect x="1718" y="1024.8" width="12.6" height="11.8" fill="#20e040"/>
<rect x="1714" y="1053" width="11" height="11" fill="#20e8f8"/>
<rect x="1579.7" y="1106.6" width="11.1" height="10.7" fill="#c0600e"/>
<rect x="1697.8" y="1214.9" width="10.7" height="10.7" fill="#c0600e"/>
<rect x="1574.8" y="1245.2" width="7.2" height="13" fill="#e81818"/>
<rect x="1561" y="1254" width="12" height="6" fill="#20e040"/>
</g>
<!-- purple mini arrows at corners -->
<g id="miniarrows" fill="none" stroke="#8a2ec0" stroke-width="1.2">
<path d="M1000,409 L1026,402"/><path d="M1028.6,401.3 L1019,400.5 L1021,405.5 Z" fill="#a030e0"/>
<path d="M986,546 C980,553 977,560 977,570"/><path d="M975,574 L974,562 L980,563 Z" fill="#a030e0"/>
<path d="M985,755 C978,745 976,735 975,725"/><path d="M975,718 L972,731 L978,731 Z" fill="#a030e0"/>
<path d="M986,758 C992,764 1000,766 1008,765"/><path d="M1013,765 L1002,761 L1002,768 Z" fill="#a030e0"/>
<path d="M1540,411 C1535,400 1525,398 1512,400"/><path d="M1508,400 L1519,396 L1518,403 Z" fill="#a030e0"/>
<path d="M1540,412 C1533,420 1530,430 1530,438"/><path d="M1530.6,441 L1527.5,430 L1533.5,430 Z" fill="#a030e0"/>
<path d="M1652,412 C1656,418 1658,424 1658,430"/><path d="M1658,434 L1655,424 L1661,424 Z" fill="#a030e0"/>
<path d="M1543,745 C1540,735 1538,728 1538,718"/><path d="M1538,714 L1535,726 L1541,726 Z" fill="#a030e0"/>
<path d="M1543,746 C1538,754 1530,754 1518,756"/><path d="M1514,756 L1524,752 L1525,758 Z" fill="#a030e0"/>
<path d="M1654,886 C1656,880 1660,876 1660,866"/><path d="M1660,862 L1657,872 L1663,872 Z" fill="#a030e0"/>
<path d="M1625,1117 C1630,1112 1640,1112 1650,1116"/>
<path d="M1740,1121 C1730,1113 1715,1113 1705,1114"/><path d="M1700,1114 L1711,1110 L1711,1117 Z" fill="#a030e0"/>
</g>
<!-- mur tout ici markers -->
<g stroke="#c03040" stroke-width="1.2" fill="none">
<path d="M665.3,477 L670.3,448.3 L667,456"/>
<path d="M984,477 H955 L963,473"/>
<path d="M1653,539.9 H1684.4 L1671.2,544.2"/>
</g>
<!-- tan contour lines -->
<g stroke="#d4b890" stroke-width="1.3" fill="none">
<path d="M935,1177 C1000,1150 1080,1140 1160,1135 C1230,1130 1290,1125 1330,1122" stroke-dasharray="40,22"/>
<path d="M1330,1122 C1400,1118 1470,1115 1520,1115" stroke-dasharray="40,22"/>
<path d="M1690,1120 L1720,1128 M1720,1146 L1784,1168" />

</g>
<text transform="translate(932,1166) rotate(149)" font-size="28" fill="#e4dcc0" textLength="112" lengthAdjust="spacingAndGlyphs">221.50</text>


<!-- north arrow -->
<g id="north">
<path d="M489.8,322 L503.5,510 C497,512 492,518 489.8,526 Z" fill="url(#ng)"/>
<path d="M489.8,580 C492,568 498,560 507,558 L513,652 C502,656 494,664 489.8,678 Z" fill="url(#ng)"/>
<path d="M490,530 L501,549" stroke="#222" stroke-width="1.6"/>
<path d="M503,513 V550" stroke="#888" stroke-width="4"/>
<path d="M500,514 L505,512" stroke="#000" stroke-width="2"/>
<path d="M489.8,322 V688" stroke="#000" stroke-width="2.2"/>
</g>
<!-- left staircase strip -->
<g id="stairs" stroke="#c9c0a6" stroke-width="1.1" fill="none">
<path d="M432,555 L410,778"/>
<path d="M410,560.0 H416 M423.5,561.0 H431.5 M410,567.7 H416 M422.7,568.7 H430.7 M410,575.4 H416 M422.0,576.4 H430.0 M410,583.1 H416 M421.2,584.1 H429.2 M410,590.8 H416 M420.5,591.8 H428.5 M410,598.5 H416 M419.7,599.5 H427.7 M410,606.2 H416 M418.9,607.2 H426.9 M410,613.9 H416 M418.2,614.9 H426.2 M410,621.6 H416 M417.4,622.6 H425.4 M410,629.3 H416 M416.7,630.3 H424.7 M410,637.0 H416 M415.9,638.0 H423.9 M410,644.7 H416 M415.2,645.7 H423.2 M410,652.4 H416 M414.4,653.4 H422.4 M410,660.1 H416 M413.6,661.1 H421.6 M410,667.8 H416 M412.9,668.8 H420.9 M410,675.5 H416 M412.1,676.5 H420.1 M410,683.2 H416 M411.4,684.2 H419.4 M410,690.9 H416 M410.6,691.9 H418.6 M410,698.6 H416 M409.8,699.6 H417.8 M410,706.3 H416 M409.1,707.3 H417.1 M410,714.0 H416 M408.3,715.0 H416.3 M410,721.7 H416 M407.6,722.7 H415.6 M410,729.4 H416 M406.8,730.4 H414.8 M410,737.1 H416 M406.0,738.1 H414.0 M410,744.8 H416 M405.3,745.8 H413.3 M410,752.5 H416 M404.5,753.5 H412.5 M410,760.2 H416 M403.8,761.2 H411.8 M410,767.9 H416 M403.0,768.9 H411.0"/>
<path d="M412,550 L420,543 M420,556 L430,546 M416,560 L426,552" />
</g>

<!--MAPMORE-->
</g>
</svg>
</body></html>
